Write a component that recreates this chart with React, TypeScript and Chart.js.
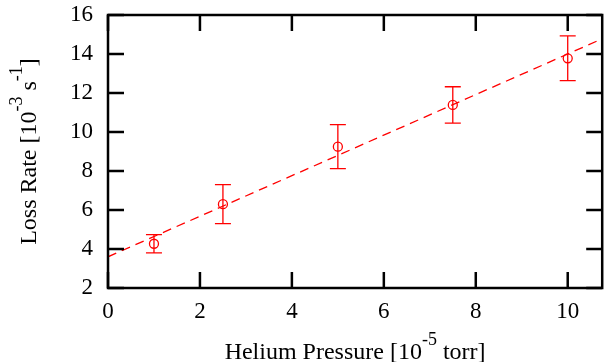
import React, { useEffect, useRef } from "react";
import { Chart, registerables } from "chart.js";

Chart.register(...registerables);

// ---- data ----
const pressure = [1, 2.5, 5, 7.5, 10];
const lossRate = [4.27, 6.3, 9.25, 11.39, 13.78];
const lossErr = [0.47, 1.0, 1.13, 0.93, 1.15];
const fitX = [0, 10.75];
const fitY = [3.6, 14.78];
const xTicks = [0, 2, 4, 6, 8, 10];
const yTicks = [2, 4, 6, 8, 10, 12, 14, 16];
const xTitle = [
  { t: "Helium Pressure [10", sup: false },
  { t: "-5", sup: true },
  { t: " torr]", sup: false },
];
const yTitle = [
  { t: "Loss Rate [10", sup: false },
  { t: "-3", sup: true },
  { t: " s", sup: false },
  { t: "-1", sup: true },
  { t: "]", sup: false },
];

const FONT = "'Liberation Serif', 'DejaVu Serif', serif";
const BASE = 23;
const TBASE = 24;
const SUP = 18;
const RAISE = 14;
const RED = "#ff0000";

function drawRich(ctx: CanvasRenderingContext2D, segs: { t: string; sup: boolean }[]) {
  let total = 0;
  const widths = segs.map((s) => {
    ctx.font = `${s.sup ? SUP : TBASE}px ${FONT}`;
    const w = ctx.measureText(s.t).width;
    total += w;
    return w;
  });
  let x = -total / 2;
  segs.forEach((s, i) => {
    ctx.font = `${s.sup ? SUP : TBASE}px ${FONT}`;
    ctx.fillText(s.t, x, s.sup ? -RAISE : 0);
    x += widths[i];
  });
}

const framePlugin = {
  id: "frameAndExtras",
  afterDatasetsDraw(chart: any) {
    const ctx: CanvasRenderingContext2D = chart.ctx;
    const xs = chart.scales.x;
    const ys = chart.scales.y;
    // error bars
    ctx.save();
    ctx.strokeStyle = RED;
    ctx.lineWidth = 1.3;
    pressure.forEach((p, i) => {
      const px = xs.getPixelForValue(p);
      const y1 = ys.getPixelForValue(lossRate[i] + lossErr[i]);
      const y2 = ys.getPixelForValue(lossRate[i] - lossErr[i]);
      ctx.beginPath();
      ctx.moveTo(px, y1);
      ctx.lineTo(px, y2);
      ctx.moveTo(px - 8, y1);
      ctx.lineTo(px + 8, y1);
      ctx.moveTo(px - 8, y2);
      ctx.lineTo(px + 8, y2);
      ctx.stroke();
    });
    ctx.restore();
  },
  afterDraw(chart: any) {
    const ctx: CanvasRenderingContext2D = chart.ctx;
    const { left, right, top, bottom } = chart.chartArea;
    const xs = chart.scales.x;
    const ys = chart.scales.y;
    ctx.save();
    ctx.strokeStyle = "#000";
    ctx.lineWidth = 2.5;
    const TL = 16;
    ctx.beginPath();
    xTicks.forEach((v) => {
      const px = xs.getPixelForValue(v);
      ctx.moveTo(px, bottom);
      ctx.lineTo(px, bottom - TL);
      ctx.moveTo(px, top);
      ctx.lineTo(px, top + TL);
    });
    yTicks.forEach((v) => {
      const py = ys.getPixelForValue(v);
      ctx.moveTo(left, py);
      ctx.lineTo(left + TL, py);
      ctx.moveTo(right, py);
      ctx.lineTo(right - TL, py);
    });
    ctx.stroke();
    ctx.lineJoin = "miter";
    ctx.strokeRect(left, top, right - left, bottom - top);

    // titles
    ctx.fillStyle = "#000";
    ctx.textBaseline = "alphabetic";
    ctx.textAlign = "left";
    ctx.save();
    ctx.translate((left + right) / 2, 359);
    drawRich(ctx, xTitle);
    ctx.restore();
    ctx.save();
    ctx.translate(36, (top + bottom) / 2);
    ctx.rotate(-Math.PI / 2);
    drawRich(ctx, yTitle);
    ctx.restore();
    ctx.restore();
  },
};

export default function App() {
  const ref = useRef<HTMLCanvasElement | null>(null);
  useEffect(() => {
    if (!ref.current) return;
    const chart = new Chart(ref.current, {
      type: "scatter",
      data: {
        datasets: [
          {
            type: "line",
            data: fitX.map((x, i) => ({ x, y: fitY[i] })),
            borderColor: RED,
            borderWidth: 1.3,
            borderDash: [9, 6],
            pointRadius: 0,
            fill: false,
          } as any,
          {
            data: pressure.map((x, i) => ({ x, y: lossRate[i] })),
            borderColor: RED,
            backgroundColor: "rgba(0,0,0,0)",
            borderWidth: 1.3,
            pointRadius: 4.5,
            pointStyle: "circle",
          },
        ],
      },
      options: {
        responsive: false,
        animation: false,
        devicePixelRatio: 1,
        layout: { padding: { left: 8, top: 15, right: 4, bottom: 0 } },
        plugins: { legend: { display: false }, tooltip: { enabled: false } },
        scales: {
          x: {
            type: "linear",
            min: 0,
            max: 10.75,
            grid: { display: false, drawTicks: false },
            border: { display: false },
            afterBuildTicks: (s: any) => {
              s.ticks = xTicks.map((v) => ({ value: v }));
            },
            afterFit: (s: any) => {
              s.height = 74;
              s.paddingLeft = 0;
              s.paddingRight = 0;
            },
            ticks: {
              padding: 10,
              color: "#000",
              maxRotation: 0,
              font: { family: FONT, size: BASE },
            },
          },
          y: {
            type: "linear",
            min: 2,
            max: 16,
            grid: { display: false, drawTicks: false },
            border: { display: false },
            afterBuildTicks: (s: any) => {
              s.ticks = yTicks.map((v) => ({ value: v }));
            },
            afterFit: (s: any) => {
              s.width = 100;
              s.paddingTop = 0;
              s.paddingBottom = 0;
            },
            ticks: {
              padding: 15,
              color: "#000",
              font: { family: FONT, size: BASE },
            },
          },
        },
      },
      plugins: [framePlugin],
    });
    return () => chart.destroy();
  }, []);
  return (
    <div style={{ position: "fixed", left: 0, top: 0, width: 608, height: 362, background: "#fff" }}>
      <canvas ref={ref} width={608} height={362} />
    </div>
  );
}
